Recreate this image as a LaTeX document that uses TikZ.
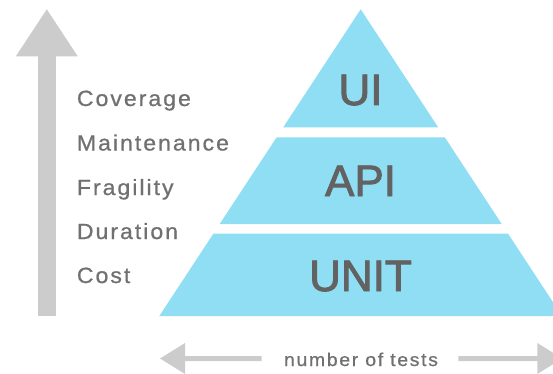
\documentclass[tikz,border=0pt]{standalone}
\usepackage{fontspec}
\setmainfont{Liberation Sans}
\newfontfamily\spacedfont[LetterSpace=9,FakeBold=0.8,FakeStretch=1.05]{Liberation Sans}
\newfontfamily\tierfont[FakeBold=2]{Liberation Sans}
\definecolor{tier}{RGB}{143,222,244}
\definecolor{axisgray}{RGB}{204,204,204}
\definecolor{labelgray}{RGB}{112,112,112}
\definecolor{tiertext}{RGB}{98,98,98}
\begin{document}
\begin{tikzpicture}[x=1pt,y=-1pt,
  tierfill/.style={fill=tier},
  axisfill/.style={fill=axisgray},
  tierlabel/.style={text=tiertext,font=\tierfont\fontsize{44}{44}\selectfont,anchor=base,inner sep=0pt},
  factor/.style={text=labelgray,font=\spacedfont\fontsize{22}{22}\selectfont,anchor=base west,inner sep=0pt},
  axislabel/.style={text=labelgray,font=\spacedfont\fontsize{18.5}{18.5}\selectfont,anchor=base,inner sep=0pt},
]
\useasboundingbox (0,0) rectangle (553,374);
\clip (0,0) rectangle (553,374);

% vertical axis arrow
\fill[axisfill] (37.8,56) rectangle (55.8,316);
\fill[axisfill] (15.7,56.5) -- (46.8,9.3) -- (77.9,56.5) -- cycle;

% pyramid tiers
\fill[tierfill] (360.7,9.3) -- (438.3,127.5) -- (283.1,127.5) -- cycle;
\fill[tierfill] (276.5,137.5) -- (444.9,137.5) -- (501.7,224) -- (219.7,224) -- cycle;
\fill[tierfill] (213.5,233.5) -- (507.9,233.5) -- (562.1,316) -- (159.3,316) -- cycle;

\node[tierlabel] (ui)   at (360.5,105) {UI};
\node[tierlabel] (api)  at (360.5,196) {API};
\node[tierlabel] (unit) at (360.5,291) {UNIT};

% factors growing towards the top
\node[factor] (coverage)    at (76.7,106)   {Coverage};
\node[factor] (maintenance) at (76.7,150.5) {Maintenance};
\node[factor] (fragility)   at (76.7,195)   {Fragility};
\node[factor] (duration)    at (76.7,239)   {Duration};
\node[factor] (cost)        at (76.7,283)   {Cost};

% horizontal axis
\fill[axisfill] (160,358.5) -- (185,343) -- (185,356) -- (261.7,356)
  -- (261.7,361) -- (185,361) -- (185,374) -- cycle;
\fill[axisfill] (458.3,356) -- (537.3,356) -- (537.3,343) -- (562.3,358.5)
  -- (537.3,374) -- (537.3,361) -- (458.3,361) -- cycle;
\node[axislabel] (tests) at (361,366) {number of tests};
\end{tikzpicture}
\end{document}
